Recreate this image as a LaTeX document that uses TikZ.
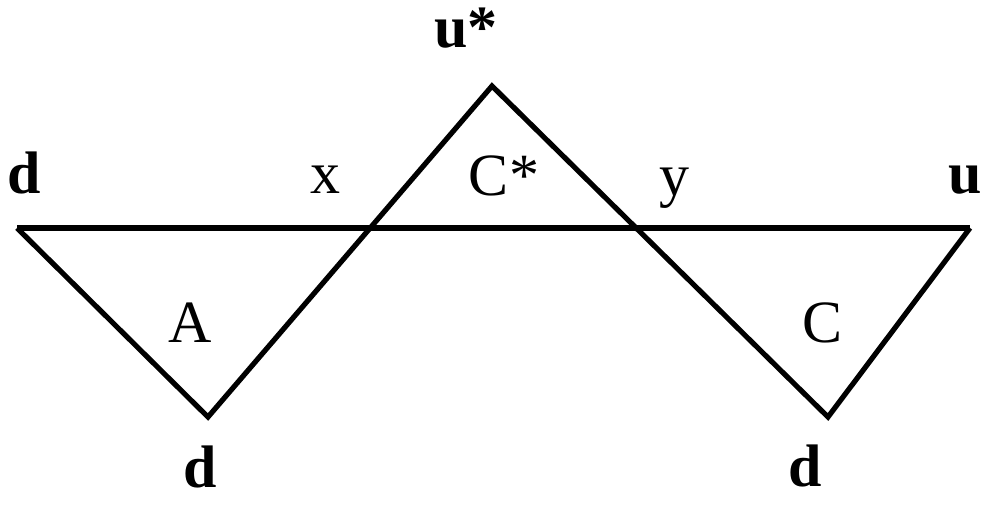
\documentclass[tikz,border=0pt]{standalone}
\usepackage{fontspec}
\setmainfont{Liberation Serif}
\begin{document}
\begin{tikzpicture}[x=0.5pt,y=-0.5pt,
  edge/.style={line width=2.6pt,line join=miter,line cap=butt},
  lbl/.style={anchor=base,inner sep=0pt,font=\fontsize{30}{36}\selectfont},
  blbl/.style={lbl,font=\fontsize{30}{36}\selectfont\bfseries}]
\useasboundingbox (0,0) rectangle (1000,504);
\coordinate (L) at (17,228);
\coordinate (R) at (970,228);
\coordinate (T) at (492,86);
\coordinate (BL) at (208,417);
\coordinate (BR) at (828,417);
\draw[edge] (L) -- (R);
\draw[edge] (L) -- (BL) -- (T) -- (BR) -- (R);
\node[blbl] (ld) at (24,193) {d};
\node[lbl] (lx) at (325,193) {x};
\node[blbl] (us) at (466,47) {u*};
\node[lbl] (cs) at (504,195) {C*};
\node[lbl] (ly) at (674,195) {y};
\node[blbl] (ru) at (965,193) {u};
\node[lbl] (la) at (190,342) {A};
\node[lbl] (lc) at (822,342) {C};
\node[blbl] (bd1) at (200,487) {d};
\node[blbl] (bd2) at (805,486) {d};
\end{tikzpicture}
\end{document}
